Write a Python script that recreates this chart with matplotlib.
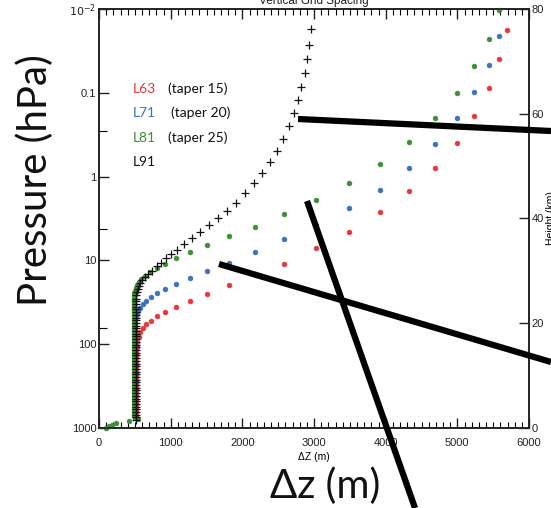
import matplotlib
matplotlib.use("Agg")
import matplotlib.pyplot as plt
from matplotlib.ticker import FixedLocator, NullFormatter, MultipleLocator
from matplotlib.lines import Line2D

# ---------------- data ----------------
# L63 (taper 15) - red
l63_dz = [5693, 5581, 5442, 5232, 4995, 4688, 4325, 3921, 3488, 3028, 2581, 2177, 1814,
          1507, 1270, 1074, 921, 809, 726, 656, 614, 572, 558, 530, 530,
          520, 520, 520, 520, 520, 520, 520, 520, 520, 520, 520, 520, 520, 520, 520,
          520, 520, 520, 520, 520, 520, 520, 520, 520, 520, 520]
l63_p = [0.0178, 0.0394, 0.0872, 0.188, 0.394, 0.782, 1.47, 2.68, 4.52, 7.20, 10.9, 14.7, 19.9,
         25.4, 30.8, 36.3, 41.6, 46.4, 53.2, 57.8, 64.5, 71.9, 82.5, 94.7, 109,
         117, 126, 136, 147, 158, 171, 184, 198, 214, 231, 249, 268, 289, 311, 336,
         362, 390, 420, 453, 488, 526, 567, 611, 659, 710, 766]

# L71 (taper 20) - blue
l71_dz = [5581, 5442, 5232, 4995, 4688, 4325, 3921, 3488, 3028, 2581, 2177, 1814, 1507,
          1270, 1074, 921, 809, 726, 656, 614, 572, 544, 530, 516,
          505, 505, 505, 505, 505, 505, 505, 505, 505, 505, 505, 505, 505, 505, 505,
          505, 505, 505, 505, 505, 505, 505, 505, 505, 505, 505, 505, 505, 505, 505,
          505, 505, 505, 505, 505, 505, 505, 505]
l71_p = [0.0210, 0.0464, 0.0973, 0.198, 0.405, 0.782, 1.43, 2.40, 3.83, 5.62, 8.03, 10.6, 13.5,
         16.4, 19.3, 22.1, 24.7, 27.6, 30.8, 33.4, 37.3, 40.5, 44.0, 47.7,
         51.3, 55.2, 59.3, 63.8, 68.6, 73.8, 79.3, 85.3, 91.7, 98.6, 106, 114, 123, 132, 142,
         152, 164, 176, 189, 204, 219, 236, 253, 272, 293, 315, 339, 364, 392, 421,
         453, 487, 524, 563, 606, 651, 700, 753]

# L81 (taper 25) - green
l81_dz = [5581, 5442, 5232, 4995, 4688, 4325, 3921, 3488, 3028, 2581, 2177, 1814, 1507,
          1270, 1074, 921, 809, 712, 642, 586, 558, 530, 516, 502,
          488, 488, 488, 488, 488, 488, 488, 488, 488, 488, 488, 488, 488, 488, 488,
          488, 488, 488, 488, 488, 488, 488, 488, 488, 488, 488, 488, 488, 488, 488,
          488, 488, 488, 488, 488, 488, 488, 488, 488, 488, 488, 488, 488, 488, 488,
          488, 488, 488, 488,
          545, 420, 237, 180, 140, 98]
l81_p = [0.0103, 0.0228, 0.0477, 0.100, 0.198, 0.383, 0.700, 1.18, 1.88, 2.76, 3.94, 5.18, 6.63,
         8.03, 9.47, 10.9, 12.4, 13.9, 15.5, 16.8, 18.3, 19.9, 21.6, 23.1,
         24.8, 26.6, 28.5, 30.6, 32.8, 35.2, 37.8, 40.5, 43.5, 46.7, 50.1, 53.7, 57.6, 61.8, 66.3,
         71.2, 76.4, 81.9, 87.9, 94.3, 101, 109, 117, 125, 134, 144, 155, 166, 178, 191,
         205, 220, 236, 253, 272, 291, 313, 335, 360, 386, 414, 444, 477, 511, 549,
         589, 632, 678, 727,
         780, 830, 880, 915, 955, 1000]

# L91 - black
l91_dz = [2958, 2930, 2902, 2874, 2818, 2777, 2721, 2651, 2567, 2484, 2386, 2274, 2163,
          2037, 1912, 1786, 1660, 1535, 1409, 1298, 1186, 1088, 1005, 935, 865, 809,
          740, 684, 642, 600, 572, 558, 544, 530, 523,
          515, 515, 515, 515, 515, 515, 515, 515, 515, 515, 515, 515, 515, 515, 515,
          515, 515, 515, 515, 515, 515, 515, 515, 515, 515, 515, 515, 515, 515, 515,
          515, 515, 515, 515, 515, 515, 515, 515, 515, 515, 515, 515, 515, 515, 515, 515]
l91_p = [0.0173, 0.0268, 0.0394, 0.0578, 0.0848, 0.121, 0.173, 0.247, 0.353, 0.490, 0.663, 0.896, 1.18,
         1.55, 2.04, 2.54, 3.16, 3.83, 4.64, 5.47, 6.45, 7.61, 8.48, 9.47, 10.6, 11.8,
         13.2, 14.5, 15.9, 17.3, 18.8, 20.4, 22.1, 24.0, 26.1,
         28.6, 30.8, 33.2, 35.7, 38.5, 41.4, 44.6, 48.1, 51.8, 55.7, 60.0, 64.7, 69.6, 75.0, 80.8,
         87.0, 93.7, 101, 109, 117, 126, 136, 146, 157, 170, 183, 197, 212, 228, 246,
         265, 285, 307, 331, 356, 384, 413, 445, 479, 516, 556, 599, 645, 694, 748, 805]

series_names = ["L63", "L71", "L81", "L91"]
series_notes = ["(taper 15)", "(taper 20)", "(taper 25)", ""]

p_ticks = [0.01, 0.1, 1, 10, 100, 1000]
p_ticklabels = ["$10^{-2}$", "0.1", "1", "10", "100", "1000"]
p_minor = [0.283, 4.27, 64.5]
dz_ticks = [0, 1000, 2000, 3000, 4000, 5000, 6000]
h_ticks = [0, 20, 40, 60, 80]

# ---------------- styling ----------------
RED = "#e8373a"
BLUE = "#3f72b8"
GREEN = "#3f8f35"
BLACK = "#111111"
TICKFONT = "Liberation Sans"
BIGFONT = "Lato"

W, H = 551, 508
fig = plt.figure(figsize=(W / 100, H / 100), dpi=100)
L, R, T, B = 99, 529, 9, 428
ax = fig.add_axes([L / W, 1 - B / H, (R - L) / W, (B - T) / H])

for dz, p, c in [(l63_dz, l63_p, RED), (l71_dz, l71_p, BLUE), (l81_dz, l81_p, GREEN)]:
    ax.plot(dz, p, linestyle="none", marker="o", ms=3.3, mfc=c, mec=c, mew=0.6,
            clip_on=False, zorder=3)
ax.plot(l91_dz, l91_p, linestyle="none", marker="+", ms=6, mew=0.9, color=BLACK,
        clip_on=False, zorder=4)

ax.set_yscale("log")
ax.set_ylim(1000, 0.01)
ax.set_xlim(0, 6000)
ax.set_yticks(p_ticks)
ax.set_yticklabels(p_ticklabels)
ax.yaxis.set_minor_locator(FixedLocator(p_minor))
ax.yaxis.set_minor_formatter(NullFormatter())
ax.set_xticks(dz_ticks)
ax.set_xticklabels([str(v) for v in dz_ticks])
ax.xaxis.set_minor_locator(MultipleLocator(100))

ax.tick_params(axis="both", which="major", direction="in", length=7, width=1.0,
               labelsize=8, colors="#222222", pad=2)
ax.tick_params(axis="x", which="major", pad=7)
ax.tick_params(axis="x", which="both", top=True, bottom=True)
ax.tick_params(axis="x", which="minor", direction="in", length=4, width=0.8)
ax.tick_params(axis="y", which="minor", direction="in", length=6, width=0.8)
ax.tick_params(axis="y", which="both", right=False)
for lab in ax.get_xticklabels() + ax.get_yticklabels():
    lab.set_fontfamily(TICKFONT)
for s in ax.spines.values():
    s.set_linewidth(1.2)
    s.set_color("#222222")

ax.set_xlabel("\u0394Z (m)", fontsize=7.5, fontfamily=TICKFONT, labelpad=3)

ax2 = ax.twinx()
ax2.set_ylim(0, 80)
ax2.set_yticks(h_ticks)
ax2.set_yticklabels([str(v) for v in h_ticks])
ax2.tick_params(axis="y", direction="in", length=7, width=1.0, labelsize=8,
                colors="#222222", pad=2)
for lab in ax2.get_yticklabels():
    lab.set_fontfamily(TICKFONT)
ax2.set_ylabel("Height (km)", fontsize=7.5, fontfamily=TICKFONT, labelpad=1)
for s in ax2.spines.values():
    s.set_linewidth(1.2)
    s.set_color("#222222")

# title, partly cut off at the top edge
fig.text(314 / W, 1 - 4 / H, "Vertical Grid Spacing", ha="center", va="baseline",
         fontsize=8.5, fontfamily=TICKFONT, color="#222222")

# legend as coloured text
colors = [RED, BLUE, GREEN, BLACK]
ys = [89, 113, 138, 162]
note_x = [168, 171, 168, 0]
for name, note, c, y, nx in zip(series_names, series_notes, colors, ys, note_x):
    fig.text(133 / W, 1 - y / H, name, color=c, fontsize=10, fontfamily=BIGFONT,
             va="center", ha="left")
    if note:
        fig.text(nx / W, 1 - y / H, note, color="#111111", fontsize=10,
                 fontfamily=BIGFONT, va="center", ha="left")

# big overlay axis labels
fig.text(35 / W, 1 - 180 / H, "Pressure (hPa)", rotation=90, fontsize=29,
         fontfamily=BIGFONT, ha="center", va="center", color="#111111")
fig.text(325 / W, 1 - 486 / H, "\u0394z (m)", fontsize=29, fontfamily=BIGFONT,
         ha="center", va="center", color="#111111")

# thick black overlay strokes
for (x0, y0), (x1, y1) in [((298, 119), (551, 131)),
                           ((219, 264), (551, 362)),
                           ((307, 201), (415, 508))]:
    fig.add_artist(Line2D([x0 / W, x1 / W], [1 - y0 / H, 1 - y1 / H],
                          transform=fig.transFigure, color="black", lw=4.5,
                          solid_capstyle="butt", zorder=10))

fig.savefig("out.png", dpi=100)
